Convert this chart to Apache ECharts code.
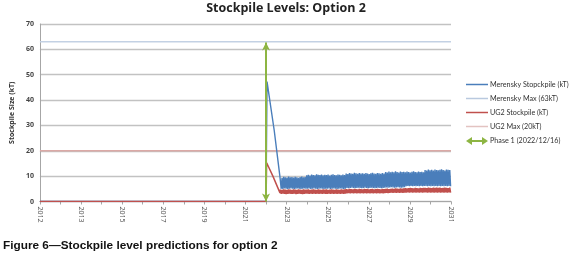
<!DOCTYPE html>
<html>
<head>
<meta charset="utf-8">
<script src="https://cdn.jsdelivr.net/npm/echarts@6/dist/echarts.min.js"></script>
<style>
html,body{margin:0;padding:0;background:#fff;}
#chart{width:579px;height:255px;}
</style>
</head>
<body>
<div id="chart"></div>
<script>
// x positions are in tick units: 0 = first tick ("2012"), 20 = last tick ("2031")
const xTickLabels = ['2012','2013','2015','2017','2019','2021','2023','2025','2027','2029','2031']; // at ticks 0,2,4,...,20
const yTicks = [0,10,20,30,40,50,60,70];

const phaseArrow = [[11, 0], [11, 62.7]];
const merenskyMax = 63;
const ug2Max = 20;

// sparse part before the dense oscillating band
const merenskyLead = [[0, 0], [11.0, 0], [11.05, 47.3], [11.4, 28], [11.68, 9.6]];
const ug2Lead = [[0, 0], [11.0, 0], [11.03, 15.3], [11.34, 9.9], [11.68, 3.4]];

// dense band from x = 11.7 to ~20 (step 0.04)
const bandStart = 11.7;
const bandStep = 0.04;
const merenskyBand = [
9.6,5.0,9.3,4.9,9.7,5.1,9.5,5.0,9.4,4.9,9.8,5.0,9.5,5.1,9.6,5.0,9.4,4.9,9.7,5.0,9.5,5.1,9.3,5.0,9.6,4.9,9.8,5.0,9.5,5.1,9.6,5.0,
10.3,5.0,10.5,5.1,10.2,4.9,10.6,5.0,10.4,5.1,10.3,5.0,10.7,4.9,10.5,5.0,10.4,5.1,10.6,5.0,10.3,4.9,10.5,5.0,
10.4,5.0,10.6,5.1,10.2,4.9,10.5,5.0,10.7,5.1,10.4,5.0,10.3,4.9,10.6,5.0,10.5,5.1,10.3,5.0,10.6,4.9,10.4,5.0,
11.0,5.3,10.8,5.2,11.2,5.3,11.0,5.4,10.9,5.3,11.3,5.2,11.1,5.3,10.9,5.4,11.2,5.3,11.0,5.2,11.1,5.3,10.9,5.4,
11.2,5.3,11.0,5.2,10.8,5.3,11.1,5.4,11.3,5.3,11.0,5.2,10.9,5.3,11.2,5.4,11.1,5.3,10.9,5.2,11.2,5.3,11.0,5.4,
11.6,5.5,11.4,5.4,11.8,5.5,11.5,5.6,11.7,5.5,11.5,5.4,11.9,5.5,11.6,5.6,11.4,5.5,11.8,5.4,11.6,5.5,11.7,5.6,
11.5,6.0,11.8,6.1,11.6,6.0,11.4,6.1,11.7,6.0,11.9,6.1,11.6,6.0,11.5,6.1,11.8,6.0,11.6,6.1,11.7,6.0,11.5,6.1,
12.4,6.1,12.2,6.0,12.6,6.1,12.3,6.0,12.5,6.1,12.2,6.0,12.6,6.1,12.4,6.0,12.3,6.1,12.5,6.0,12.7,6.1,12.4,6.0,12.2,6.1,12.6,6.0,12.5,6.1,12.4,6.0
];
const ug2Band = [
4.7,3.0,4.6,3.1,4.8,3.0,4.7,2.9,4.6,3.0,4.8,3.1,4.7,3.0,4.6,3.0,4.8,3.1,4.7,2.9,4.6,3.0,4.8,3.1,4.7,3.0,4.6,2.9,4.8,3.0,4.7,3.1,
4.7,3.1,4.8,3.0,4.6,3.1,4.7,3.0,4.8,3.1,4.7,3.0,4.6,3.1,4.8,3.0,4.7,3.1,4.6,3.0,4.8,3.1,4.7,3.0,
4.8,3.0,4.6,3.1,4.7,3.0,4.8,3.1,4.7,3.0,4.6,3.1,4.8,3.0,4.7,3.1,4.6,3.0,4.8,3.1,4.7,3.0,4.8,3.1,
4.9,3.2,4.8,3.3,5.0,3.2,4.9,3.3,4.8,3.2,5.0,3.3,4.9,3.2,4.8,3.3,5.0,3.2,4.9,3.3,4.8,3.2,5.0,3.3,
4.9,3.2,5.0,3.3,4.8,3.2,4.9,3.3,5.0,3.2,4.8,3.3,4.9,3.2,5.0,3.3,4.9,3.2,4.8,3.3,5.0,3.2,4.9,3.3,
5.0,3.4,5.1,3.3,4.9,3.4,5.0,3.5,5.1,3.4,5.0,3.5,5.2,3.4,5.1,3.5,5.0,3.4,5.2,3.5,5.1,3.4,5.2,3.5,
5.3,3.5,5.2,3.6,5.3,3.5,5.4,3.6,5.3,3.5,5.2,3.6,5.4,3.5,5.3,3.6,5.2,3.5,5.4,3.6,5.3,3.5,5.4,3.6,
5.4,3.6,5.3,3.5,5.5,3.6,5.4,3.5,5.3,3.6,5.5,3.5,5.4,3.6,5.5,3.5,5.4,3.6,5.5,3.5,5.3,3.6,5.4,3.5,5.5,3.6,5.4,3.5,5.3,3.6,5.5,3.5
];

const names = ['Merensky Stopckpile (kT)', 'Merensky Max (63kT)', 'UG2 Stockpile (kT)', 'UG2 Max (20kT)', 'Phase 1 (2022/12/16)'];

function withBand(lead, band) {
  const out = lead.slice();
  band.forEach((v, i) => out.push([+(bandStart + i * bandStep).toFixed(3), v]));
  return out;
}

const lineIcon = 'path://M0,0 L22,0 L22,1.5 L0,1.5 Z';
const arrowIcon = 'path://M0,4 L6,0 L6,3 L16,3 L16,0 L22,4 L16,8 L16,5 L6,5 L6,8 Z';

const chart = echarts.init(document.getElementById('chart'), null, {renderer: 'canvas'});
chart.setOption({
  animation: false,
  backgroundColor: '#fff',
  title: {
    text: 'Stockpile Levels: Option 2',
    left: 286, top: 0, textAlign: 'center', padding: [2, 0, 0, 0],
    textStyle: {fontFamily: 'Open Sans', fontWeight: 'bold', fontSize: 12.5, color: '#222'}
  },
  grid: {left: 26, right: 128, top: 24, bottom: 53.5, containLabel: false},
  legend: {
    orient: 'vertical', left: 466, top: 81, padding: 0,
    itemWidth: 22, itemHeight: 8, itemGap: 7, symbolKeepAspect: true,
    textStyle: {fontFamily: 'Lato', fontSize: 7.2, color: '#333', padding: [0, 0, 0, -3]},
    data: [
      {name: names[0], icon: lineIcon},
      {name: names[1], icon: lineIcon},
      {name: names[2], icon: lineIcon},
      {name: names[3], icon: lineIcon},
      {name: names[4], icon: arrowIcon}
    ]
  },
  xAxis: {
    type: 'value', min: 0, max: 20, interval: 1,
    splitLine: {show: false},
    axisLine: {lineStyle: {color: '#a6a6a6', width: 1}},
    axisTick: {show: true, length: 3, lineStyle: {color: '#a6a6a6'}},
    axisLabel: {
      rotate: -90, margin: 5, fontFamily: 'Open Sans', fontSize: 7, color: '#555',
      formatter: v => (v % 2 === 0 ? xTickLabels[v / 2] : '')
    }
  },
  yAxis: {
    type: 'value', min: yTicks[0], max: yTicks[yTicks.length - 1], interval: 10,
    name: 'Stockpile Size (kT)', nameLocation: 'middle', nameRotate: 90, nameGap: 18,
    nameTextStyle: {fontFamily: 'Open Sans', fontWeight: 'bold', fontSize: 7, color: '#333'},
    axisLine: {show: true, lineStyle: {color: '#a6a6a6'}},
    axisTick: {show: false},
    axisLabel: {margin: 6, fontFamily: 'Open Sans', fontWeight: 'bold', fontSize: 7, color: '#444'},
    splitLine: {lineStyle: {color: '#c2c2c2', width: 1.3}}
  },
  series: [
    {
      name: names[0], type: 'line', symbol: 'none', z: 3,
      lineStyle: {color: '#4a7ebb', width: 1.4}, itemStyle: {color: '#4a7ebb'},
      data: withBand(merenskyLead, merenskyBand)
    },
    {
      name: names[1], type: 'line', symbol: 'none', z: 2,
      lineStyle: {color: '#c3d1e4', width: 1.5}, itemStyle: {color: '#b9c9df'},
      data: [[0, merenskyMax], [20, merenskyMax]]
    },
    {
      name: names[2], type: 'line', symbol: 'none', z: 4,
      lineStyle: {color: '#c0504d', width: 1.5}, itemStyle: {color: '#c0504d'},
      data: withBand(ug2Lead, ug2Band)
    },
    {
      name: names[3], type: 'line', symbol: 'none', z: 2,
      lineStyle: {color: '#dba9a6', width: 1.5}, itemStyle: {color: '#e3c3c1'},
      data: [[0, ug2Max], [20, ug2Max]]
    },
    {
      name: names[4], type: 'line', symbol: 'none', z: 5,
      lineStyle: {color: '#8db543', width: 2}, itemStyle: {color: '#8db543'},
      data: [],
      markLine: {
        silent: true, symbol: ['arrow', 'arrow'], symbolSize: [6, 8],
        label: {show: false},
        lineStyle: {color: '#8db543', width: 2, type: 'solid'},
        data: [[{coord: phaseArrow[0]}, {coord: phaseArrow[1]}]]
      }
    }
  ],
  graphic: [{
    type: 'text', left: 3, top: 240,
    style: {
      text: 'Figure 6\u2014Stockpile level predictions for option 2',
      fontFamily: "'Liberation Sans Narrow', 'Liberation Sans', Arial, sans-serif",
      fontWeight: 'bold', fontSize: 11.8, fill: '#111'
    }
  }]
});
</script>
</body>
</html>
